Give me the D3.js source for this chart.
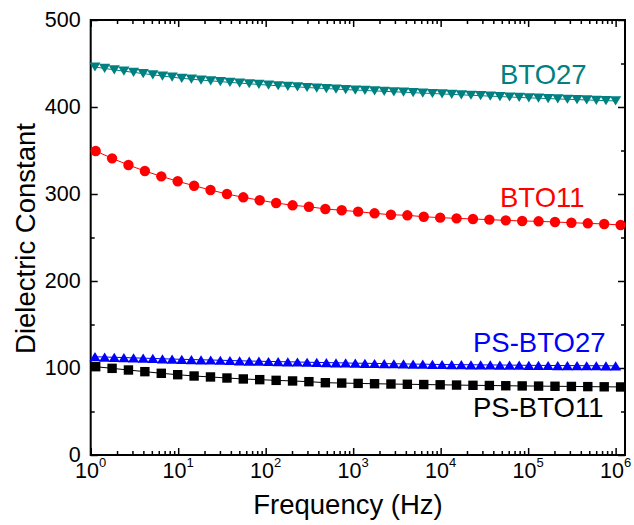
<!DOCTYPE html>
<html>
<head>
<meta charset="utf-8">
<script src="https://cdn.jsdelivr.net/npm/d3@7"></script>
<style>
  html, body { margin: 0; padding: 0; background: #fff; }
  svg { display: block; }
  text { font-family: "Liberation Sans", Arial, sans-serif; }
</style>
</head>
<body>
<script>
// ---------------- DATA ----------------
// Frequencies (Hz) of the densely sampled series (triangles)
const freqDense = [1.119, 1.443, 1.859, 2.396, 3.089, 3.981, 5.131, 6.613, 8.523,
  10.98, 14.16, 18.25, 23.52, 30.31, 39.07, 50.35, 64.90, 83.64,
  107.8, 138.9, 179.1, 230.8, 297.4, 383.4, 494.1, 636.8, 820.7,
  1058, 1363, 1757, 2265, 2919, 3762, 4849, 6249, 8054,
  10380, 13380, 17240, 22220, 28640, 36920, 47580, 61320, 79030,
  101900, 131300, 169200, 218100, 281100, 362200, 466900, 601700, 775500,
  999500];
// Frequencies (Hz) of the sparser series (circles, squares)
const freqSparse = [1.14, 1.756, 2.70, 4.16, 6.41, 9.87, 15.2, 23.4, 36.1, 55.5, 85.5,
  131.7, 203, 312, 481, 740, 1140, 1756, 2704, 4164, 6412, 9874,
  15205, 23414, 36058, 55527, 85507, 131674, 202767, 312250, 480839, 740454, 1140250];

const bto27 = [446.0, 444.3, 442.7, 441.2, 439.8, 438.4, 437.0, 435.6, 434.3,
  433.0, 432.0, 431.0, 430.1, 429.2, 428.3, 427.5, 426.7, 425.9,
  425.1, 424.4, 423.7, 423.1, 422.4, 421.8, 421.2, 420.6, 420.0,
  419.5, 419.0, 418.5, 418.0, 417.5, 417.0, 416.5, 416.0, 415.5,
  415.0, 414.5, 414.0, 413.5, 413.0, 412.5, 412.0, 411.5, 411.0,
  410.5, 410.1, 409.7, 409.3, 408.9, 408.5, 408.1, 407.7, 407.3,
  407.0];
const psBto27 = [113.0, 112.6, 112.3, 112.0, 111.6, 111.3, 111.0, 110.6, 110.3,
  110.0, 109.7, 109.4, 109.2, 108.9, 108.6, 108.3, 108.0, 107.8,
  107.5, 107.3, 107.1, 106.9, 106.6, 106.4, 106.2, 106.0, 105.8,
  105.5, 105.4, 105.2, 105.0, 104.9, 104.7, 104.5, 104.4, 104.2,
  104.0, 103.9, 103.8, 103.7, 103.6, 103.5, 103.4, 103.3, 103.2,
  103.0, 103.0, 102.9, 102.8, 102.8, 102.7, 102.6, 102.6, 102.5,
  102.5];
const bto11 = [349.4, 341.0, 333.3, 326.4, 320.3, 314.6, 309.5, 304.6, 300.0, 296.2, 292.8,
  289.7, 287.0, 285.4, 282.8, 281.3, 279.7, 277.8, 276.2, 275.5, 273.9, 272.8,
  272.0, 271.3, 270.5, 269.7, 269.0, 268.6, 267.8, 267.0, 266.3, 265.5, 264.4];
const psBto11 = [101.5, 99.6, 97.7, 95.8, 93.9, 92.3, 90.8, 89.7, 88.5, 87.4, 86.6,
  85.8, 85.1, 84.3, 83.1, 82.7, 82.3, 81.9, 81.6, 81.3, 81.0, 80.7,
  80.4, 80.1, 79.9, 79.6, 79.4, 79.2, 79.0, 78.8, 78.6, 78.4, 78.2];

const yTickValues = [0, 100, 200, 300, 400, 500];
const yMinorValues = [50, 150, 250, 350, 450];
const xDecades = [1, 10, 100, 1000, 10000, 100000, 1000000];
const xExponents = ["0", "1", "2", "3", "4", "5", "6"];

const seriesLabels = [
  { text: "BTO27", color: "#008080", x: 500, y: 83.5 },
  { text: "BTO11", color: "#ff0000", x: 500, y: 206.5 },
  { text: "PS-BTO27", color: "#0000ff", x: 473, y: 351.5 },
  { text: "PS-BTO11", color: "#000000", x: 473, y: 416.5 }
];

// ---------------- CHART ----------------
const W = 634, H = 525;
const L = 90.7, R = 625, T = 20, B = 455;
const svg = d3.select("body").append("svg").attr("width", W).attr("height", H);

const x = d3.scaleLog().domain([1, 1.28e6]).range([L, R]);
const y = d3.scaleLinear().domain([0, 500]).range([B, T]);

const xMinor = [];
for (let d = 1; d < 1e6; d *= 10) for (let k = 2; k <= 9; k++) xMinor.push(d * k);

function styleAxis(g) {
  g.select(".domain").remove();
  g.selectAll(".tick line").attr("stroke", "#000").attr("stroke-width", 1.5);
}

// bottom
svg.append("g").attr("transform", `translate(0,${B})`)
  .call(d3.axisBottom(x).tickValues(xDecades).tickSize(-7).tickFormat(""))
  .call(styleAxis);
svg.append("g").attr("transform", `translate(0,${B})`)
  .call(d3.axisBottom(x).tickValues(xMinor).tickSize(-4).tickFormat(""))
  .call(styleAxis);
// top
svg.append("g").attr("transform", `translate(0,${T})`)
  .call(d3.axisTop(x).tickValues(xDecades).tickSize(-7).tickFormat(""))
  .call(styleAxis);
svg.append("g").attr("transform", `translate(0,${T})`)
  .call(d3.axisTop(x).tickValues(xMinor).tickSize(-4).tickFormat(""))
  .call(styleAxis);
// left
const gl = svg.append("g").attr("transform", `translate(${L},0)`)
  .call(d3.axisLeft(y).tickValues(yTickValues).tickSize(-7).tickPadding(10).tickFormat(d3.format("d")))
  .call(styleAxis);
gl.selectAll("text").attr("font-size", 21.5).attr("fill", "#000")
  .attr("font-family", '"Liberation Sans", Arial, sans-serif');
svg.append("g").attr("transform", `translate(${L},0)`)
  .call(d3.axisLeft(y).tickValues(yMinorValues).tickSize(-4).tickFormat(""))
  .call(styleAxis);
// right
svg.append("g").attr("transform", `translate(${R},0)`)
  .call(d3.axisRight(y).tickValues(yTickValues).tickSize(-7).tickFormat(""))
  .call(styleAxis);
svg.append("g").attr("transform", `translate(${R},0)`)
  .call(d3.axisRight(y).tickValues(yMinorValues).tickSize(-4).tickFormat(""))
  .call(styleAxis);

// frame
svg.append("rect").attr("x", L).attr("y", T).attr("width", R - L).attr("height", B - T)
  .attr("fill", "none").attr("stroke", "#000").attr("stroke-width", 2);

// x tick labels with superscripts
const xl = svg.append("g");
xDecades.forEach((d, i) => {
  const t = xl.append("text").attr("x", x(d)).attr("y", B + 23)
    .attr("text-anchor", "middle").attr("font-size", 21.5).attr("fill", "#000");
  t.append("tspan").text("10");
  t.append("tspan").attr("dy", -11.3).attr("font-size", 13).text(xExponents[i]);
});

// axis titles
svg.append("text").attr("x", 348).attr("y", 514).attr("text-anchor", "middle")
  .attr("font-size", 27.5).attr("fill", "#000").text("Frequency (Hz)");
svg.append("text").attr("transform", "translate(35,238.5) rotate(-90)")
  .attr("text-anchor", "middle").attr("font-size", 27.5).attr("fill", "#000")
  .text("Dielectric Constant");

// series
const plot = svg.append("g");
function drawSeries(freqs, vals, color, marker) {
  const pts = freqs.map((f, i) => [f, vals[i]]);
  plot.append("path").datum(pts)
    .attr("fill", "none").attr("stroke", color).attr("stroke-width", 1)
    .attr("d", d3.line().x(d => x(d[0])).y(d => y(d[1])));
  const g = plot.append("g").attr("fill", color);
  const sel = g.selectAll("path.m").data(pts).enter();
  if (marker === "circle") {
    sel.append("circle").attr("cx", d => x(d[0])).attr("cy", d => y(d[1])).attr("r", 5.2);
  } else if (marker === "square") {
    sel.append("rect").attr("x", d => x(d[0]) - 4.7).attr("y", d => y(d[1]) - 4.7)
      .attr("width", 9.4).attr("height", 9.4);
  } else {
    const shape = marker === "down" ? "M-5.6,-4.6L5.6,-4.6L0,4.6Z" : "M-5.6,4.6L5.6,4.6L0,-4.6Z";
    sel.append("path").attr("d", shape)
      .attr("transform", d => `translate(${x(d[0])},${y(d[1])})`);
  }
}
drawSeries(freqDense, bto27, "#008080", "down");
drawSeries(freqSparse, bto11, "#ff0000", "circle");
drawSeries(freqDense, psBto27, "#0000ff", "up");
drawSeries(freqSparse, psBto11, "#000000", "square");

// series labels
seriesLabels.forEach(s => {
  svg.append("text").attr("x", s.x).attr("y", s.y).attr("font-size", 27.5)
    .attr("fill", s.color).text(s.text);
});
</script>
</body>
</html>
